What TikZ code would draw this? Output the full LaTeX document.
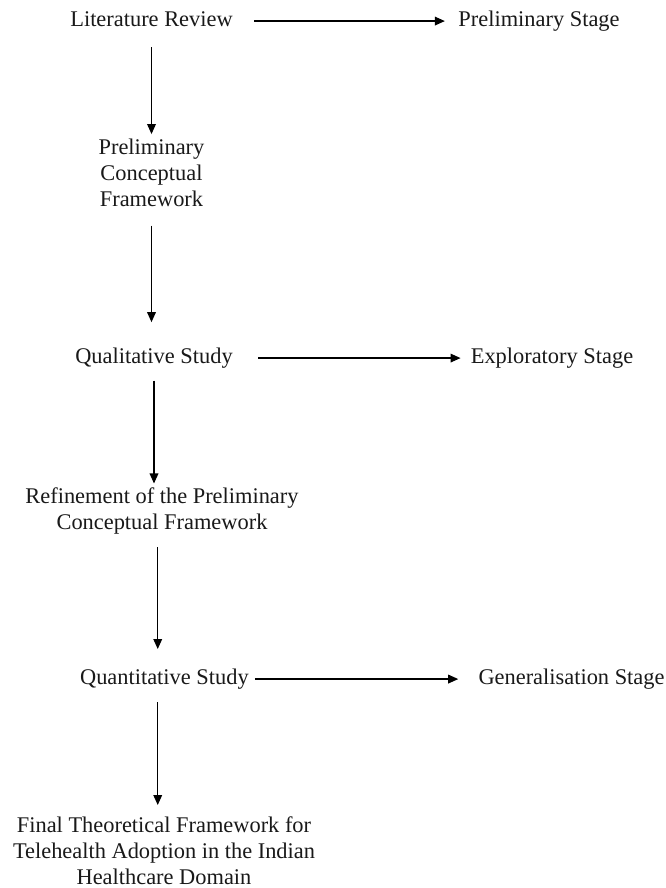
\documentclass[tikz,border=0pt]{standalone}
\usepackage{fontspec}
\setmainfont{Liberation Serif}
\usetikzlibrary{arrows.meta}
\newcommand\stagefont{\fontsize{16.8pt}{19.5pt}\selectfont}
\tikzset{
  lbl/.style={font=\stagefont, align=center, inner sep=0pt, anchor=north, text=black!90},
  flow/.style={line width=0.95pt, -{Triangle[length=7.5pt,width=6.5pt]}},
}
\begin{document}
\begin{tikzpicture}[x=0.75pt, y=-0.75pt]
  \useasboundingbox (0,0) rectangle (666,888);
  \fill[white] (0,0) rectangle (666,888);

  % research stages (left column) and stage names (right column)
  \node[lbl] (lit)   at (151.5, 7.8)   {\strut Literature Review\strut};
  \node[lbl] (pst)   at (539, 7.8)     {\strut Preliminary Stage\strut};
  \node[lbl] (pcf)   at (151.5, 135.8) {\strut Preliminary\\Conceptual\\Framework\strut};
  \node[lbl] (qual)  at (154, 344.8)   {\strut Qualitative Study\strut};
  \node[lbl] (expl)  at (552, 344.8)   {\strut Exploratory Stage\strut};
  \node[lbl] (ref)   at (162, 484.8)   {\strut Refinement of the Preliminary\\Conceptual Framework\strut};
  \node[lbl] (quant) at (164.4, 665.8) {\strut Quantitative Study\strut};
  \node[lbl] (gen)   at (571.5, 665.8) {\strut Generalisation Stage\strut};
  \node[lbl] (fin)   at (164, 813.8)   {\strut Final Theoretical Framework for\\Telehealth Adoption in the Indian\\Healthcare Domain\strut};

  % horizontal links to the stage names
  \draw[flow, shorten <=16pt, shorten >=10pt]  (lit.east)   -- (pst.west);
  \draw[flow, shorten <=19pt, shorten >=7.5pt] (qual.east)  -- (expl.west);
  \draw[flow, shorten <=4.5pt, shorten >=15pt] (quant.east) -- (gen.west);

  % vertical flow down the left column
  \draw[flow, shorten <=9.75pt, shorten >=1.3pt] (lit.south) -- (pcf.north);
  \draw[flow, shorten <=8.4pt, shorten >=17pt]   (pcf.south) -- (pcf.south |- qual.north);
  \draw[flow, shorten <=6.9pt, shorten >=1pt]    (qual.south) -- (qual.south |- ref.north);
  \draw[flow, shorten <=7.6pt, shorten >=12.6pt] ([xshift=-3.2pt]ref.south) -- ([xshift=-3.2pt]ref.south |- quant.north);
  \draw[flow, shorten <=7.6pt, shorten >=6.6pt]  ([xshift=-5pt]quant.south) -- ([xshift=-5pt]quant.south |- fin.north);
\end{tikzpicture}
\end{document}
